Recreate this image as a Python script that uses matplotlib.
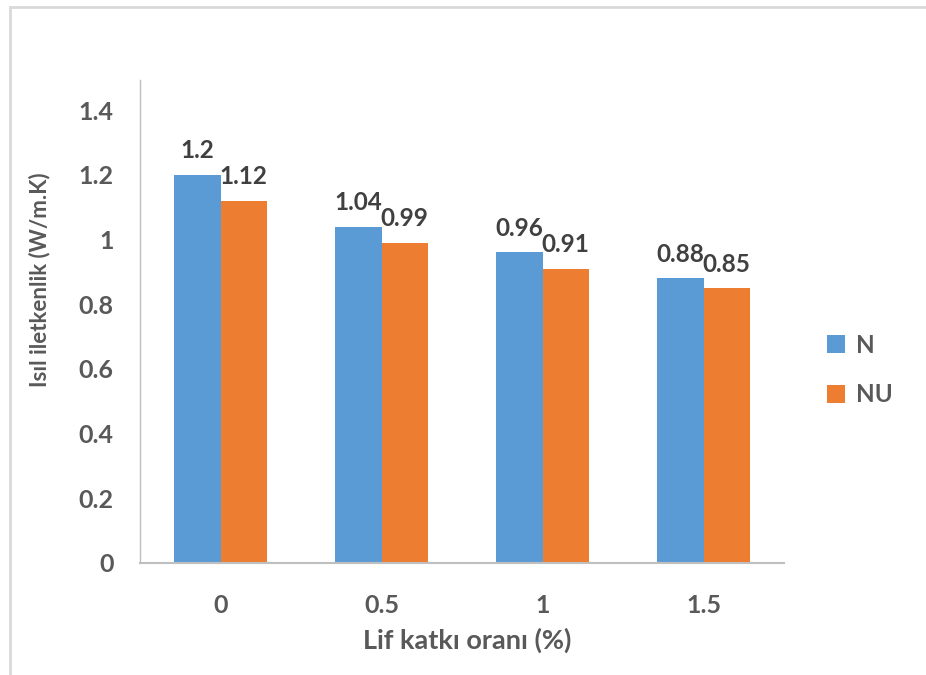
import matplotlib
matplotlib.use("Agg")
import matplotlib.pyplot as plt
from matplotlib.patches import Rectangle
import numpy as np

categories = ["0", "0.5", "1", "1.5"]
series_names = ["N", "NU"]
n_values = [1.2, 1.04, 0.96, 0.88]
nu_values = [1.12, 0.99, 0.91, 0.85]
n_labels = ["1.2", "1.04", "0.96", "0.88"]
nu_labels = ["1.12", "0.99", "0.91", "0.85"]
yticks = [0, 0.2, 0.4, 0.6, 0.8, 1.0, 1.2, 1.4]
ytick_labels = ["0", "0.2", "0.4", "0.6", "0.8", "1", "1.2", "1.4"]

plt.rcParams['font.family'] = ['Lato', 'DejaVu Sans']
plt.rcParams['font.weight'] = 'bold'

W, H = 926, 675
fig = plt.figure(figsize=(W / 100, H / 100), dpi=100)

# outer frame
fig.patches.append(Rectangle((9.5 / W, -0.1), 1.2, (H - 7.5) / H + 0.1,
                             transform=fig.transFigure, fill=False,
                             edgecolor='#D9D9D9', linewidth=2.0))

ax = fig.add_axes([140 / W, 1 - 563 / H, (784 - 140) / W, (563 - 80) / H])

x = np.arange(len(categories))
bw = 0.286
blue = '#5B9BD5'
orange = '#ED7D31'
b1 = ax.bar(x - bw / 2, n_values, bw, color=blue, label=series_names[0])
b2 = ax.bar(x + bw / 2, nu_values, bw, color=orange, label=series_names[1])

for bars, labs in ((b1, n_labels), (b2, nu_labels)):
    for rect, lab in zip(bars, labs):
        ax.annotate(lab, (rect.get_x() + rect.get_width() / 2, rect.get_height()),
                    xytext=(0, 9), textcoords='offset points', ha='center', va='bottom',
                    fontsize=17.5, fontweight='bold', color='#404040')

ax.set_xlim(-0.5, 3.5)
ax.set_ylim(0, 1.493)
ax.set_xticks(x)
ax.set_xticklabels(categories)
ax.set_yticks(yticks)
ax.set_yticklabels(ytick_labels)
ax.tick_params(axis='both', length=0, labelsize=18, labelcolor='#595959')
ax.tick_params(axis='x', pad=22)
ax.tick_params(axis='y', pad=19)
for s in ['top', 'right']:
    ax.spines[s].set_visible(False)
ax.spines['left'].set_color('#BFBFBF')
ax.spines['bottom'].set_color('#BFBFBF')
ax.spines['left'].set_linewidth(1.0)
ax.spines['bottom'].set_linewidth(1.5)

fig.text(467 / W, 1 - 640 / H, "Lif katkı oranı (%)", ha='center', va='center',
         fontsize=19.5, fontweight='bold', color='#595959')
fig.text(40 / W, 1 - 280 / H, "Isıl iletkenlik (W/m.K)", ha='center', va='center',
         rotation=90, fontsize=16, fontweight='bold', color='#595959')

leg = fig.legend(handles=[b1, b2], labels=series_names, loc='center left',
                 bbox_to_anchor=(805 / W, 1 - 370 / H), frameon=False,
                 fontsize=17.5, labelcolor='#595959', handlelength=0.75,
                 handleheight=0.75, handletextpad=0.45, labelspacing=1.1)

fig.savefig("out.png", dpi=100, facecolor='white')
